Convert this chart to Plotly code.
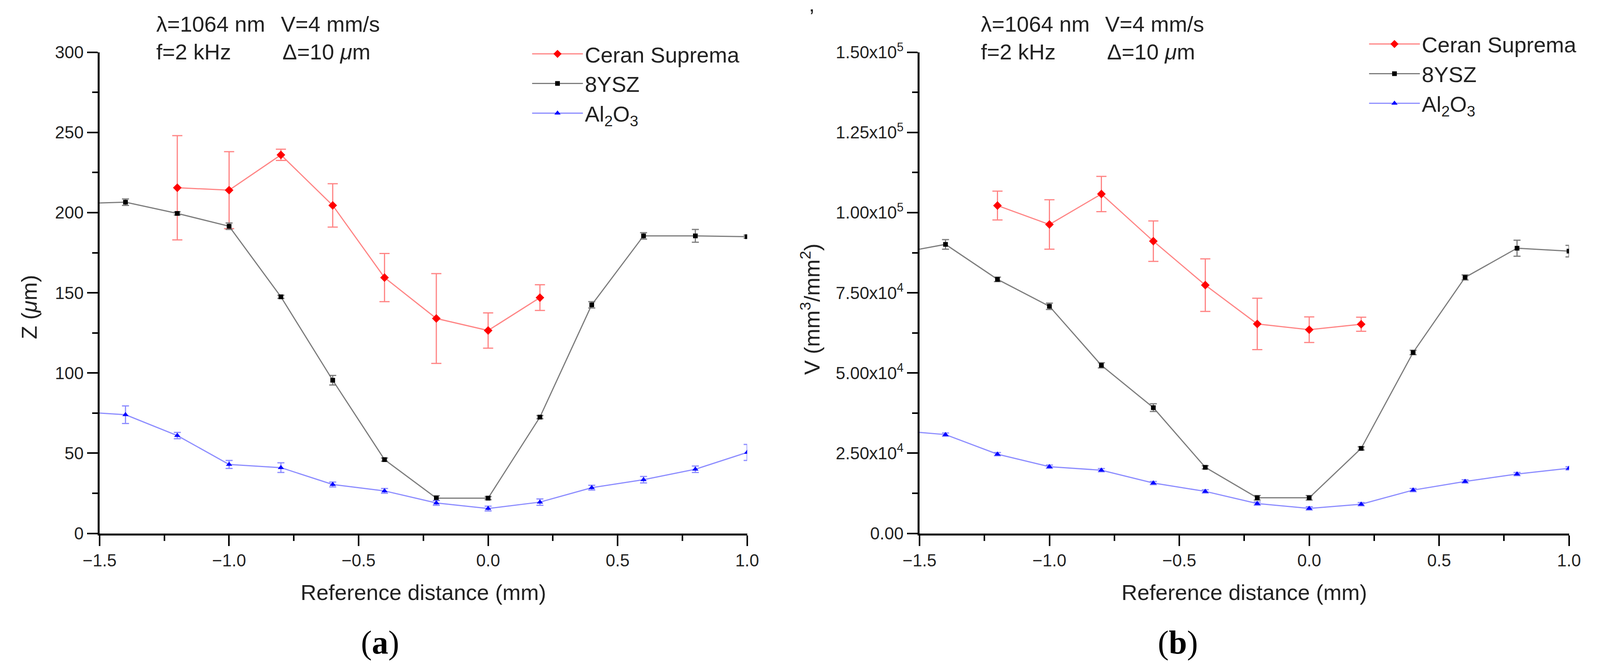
import plotly.graph_objects as go
from plotly.subplots import make_subplots

# data
x_all = [-1.6, -1.4, -1.2, -1.0, -0.8, -0.6, -0.4, -0.2, 0.0, 0.2, 0.4, 0.6, 0.8, 1.0]
x_ceran = [-1.2, -1.0, -0.8, -0.6, -0.4, -0.2, 0.0, 0.2]

# (a) depth Z (um)
z_ceran = [215.5, 214, 236, 204.5, 159.5, 134, 126.5, 147]
z_ceran_err = [32.5, 24, 3.5, 13.5, 15, 28, 11, 8]
z_ysz = [205.5, 206.5, 199.5, 191.5, 147.5, 95.5, 46, 22, 22, 72.5, 142.5, 185.5, 185.5, 185]
z_ysz_err = [2, 2, 1, 2, 1, 3, 1, 1.5, 1, 1, 2, 2, 4, 1]
z_al = [76, 74, 61, 43, 41, 30.5, 26.5, 19, 15.5, 19.5, 28.5, 33.5, 40, 50.5]
z_al_err = [2, 5.5, 2, 2.5, 3, 1.5, 1.5, 1.5, 1.5, 2, 1.5, 2, 2, 5]

# (b) removed volume V (mm3/mm2)
v_ceran = [102200, 96300, 105800, 91100, 77400, 65300, 63500, 65200]
v_ceran_err = [4500, 7700, 5500, 6300, 8200, 8000, 4000, 2200]
v_ysz = [87100, 90100, 79200, 70800, 52400, 39200, 20600, 11100, 11100, 26500, 56400, 79800, 88900, 88000]
v_ysz_err = [1000, 1500, 700, 1000, 800, 1200, 500, 700, 700, 500, 700, 800, 2500, 1800]
v_al = [32200, 30800, 24700, 20800, 19700, 15700, 13100, 9300, 7800, 9100, 13500, 16200, 18500, 20300]
v_al_err = [500] * 14

v_ticks = [0, 25000, 50000, 75000, 100000, 125000, 150000]
v_ticktext = ["0.00", "2.50x10<sup>4</sup>", "5.00x10<sup>4</sup>", "7.50x10<sup>4</sup>",
              "1.00x10<sup>5</sup>", "1.25x10<sup>5</sup>", "1.50x10<sup>5</sup>"]

W, H = 4156, 1709
FONT = "Liberation Sans"

fig = make_subplots(rows=1, cols=2)

series = [
    ("Ceran Suprema", "#ff0000", "rgba(255,110,110,0.85)", "diamond", 17, 13),
    ("8YSZ", "#000000", "rgba(110,110,110,0.9)", "square", 12, 9),
    ("Al<sub>2</sub>O<sub>3</sub>", "#0000ff", "rgba(120,120,255,0.85)", "triangle-up", 14, 9),
]
panels = [
    (1, "legend", [(x_ceran, z_ceran, z_ceran_err), (x_all, z_ysz, z_ysz_err), (x_all, z_al, z_al_err)]),
    (2, "legend2", [(x_ceran, v_ceran, v_ceran_err), (x_all, v_ysz, v_ysz_err), (x_all, v_al, v_al_err)]),
]

for col, leg, sets in panels:
    for (name, mcol, lcol, sym, msize, cap), (xs, ys, es) in zip(series, sets):
        fig.add_trace(go.Scatter(
            x=xs, y=ys, name=name, mode="lines+markers", legend=leg,
            line=dict(color=lcol, width=3),
            marker=dict(color=mcol, symbol=sym, size=msize),
            error_y=dict(type="data", array=es, color=lcol, thickness=3, width=cap),
        ), row=1, col=col)

axis_common = dict(
    showline=True, linecolor="black", linewidth=5, mirror=False,
    showgrid=False, zeroline=False,
    ticks="outside", ticklen=27, tickwidth=4, tickcolor="black",
    tickfont=dict(family=FONT, size=44, color="#222222"),
)
minor_x = dict(ticklen=14, tickwidth=4, tickcolor="black", dtick=0.25, showgrid=False)

for col, dom in [(1, [219 / W, 1932 / W]), (2, [2388 / W, 4106 / W])]:
    fig.update_xaxes(
        domain=dom, range=[-1.5, 1.0], dtick=0.5, tickformat=".1f",
        minor=minor_x,
        title=dict(text="Reference distance (mm)", standoff=40,
                   font=dict(family=FONT, size=56, color="#222222")),
        row=1, col=col, **axis_common)

ydom = [1 - 1378 / H, 1 - 106 / H]
fig.update_yaxes(domain=ydom, range=[0, 300], dtick=50,
                 minor=dict(ticklen=14, tickwidth=4, tickcolor="black", dtick=25, showgrid=False),
                 row=1, col=1, **axis_common)
fig.update_yaxes(domain=ydom, range=[0, 150000], tickvals=v_ticks, ticktext=v_ticktext,
                 minor=dict(ticklen=14, tickwidth=4, tickcolor="black", dtick=12500, showgrid=False),
                 row=1, col=2, **axis_common)

ann = []
txt_font = dict(family=FONT, size=56, color="#222222")
for dx in (0, 2181):
    ann += [
        dict(text="λ=1064 nm", x=(367 + dx) / W, y=1 - 32 / H),
        dict(text="V=4 mm/s", x=(696 + dx) / W, y=1 - 32 / H),
        dict(text="f=2 kHz", x=(367 + dx) / W, y=1 - 105 / H),
        dict(text="Δ=10 <i>μ</i>m", x=(701 + dx) / W, y=1 - 105 / H),
    ]
for a in ann:
    a.update(xref="paper", yref="paper", xanchor="left", yanchor="middle",
             showarrow=False, font=txt_font)

ann += [
    dict(text="Z (<i>μ</i>m)", x=33 / W, y=1 - 780 / H, textangle=-90),
    dict(text="V (mm<sup>3</sup>/mm<sup>2</sup>)", x=2100 / W, y=1 - 785 / H, textangle=-90),
    dict(text="’", x=2103 / W, y=1 - 12 / H),
]
for a in ann[-3:]:
    a.update(xref="paper", yref="paper", xanchor="center", yanchor="middle",
             showarrow=False, font=txt_font)

for lab, xc in [("(<b>a</b>)", 961), ("(<b>b</b>)", 3072)]:
    ann.append(dict(text=lab, x=xc / W, y=1 - 1667 / H, xref="paper", yref="paper",
                    xanchor="center", yanchor="middle", showarrow=False,
                    font=dict(family="Liberation Serif", size=84, color="black")))

legend_style = dict(xanchor="left", yanchor="top", bgcolor="rgba(0,0,0,0)",
                    font=dict(family=FONT, size=56, color="#222222"),
                    tracegroupgap=0, itemwidth=130)

fig.update_layout(
    margin=dict(l=0, r=0, t=0, b=0),
    paper_bgcolor="white", plot_bgcolor="white",
    annotations=ann,
    legend=dict(x=1358 / W, y=1 - 66 / H, **legend_style),
    legend2=dict(x=3572 / W, y=1 - 40 / H, **legend_style),
)

# size the figure to the window itself and drop the default page margin
fig.write_html("out.html", default_width="100vw", default_height="100vh",
               config={"displayModeBar": False},
               post_script="document.body.style.margin='0';document.body.style.overflow='hidden';")
